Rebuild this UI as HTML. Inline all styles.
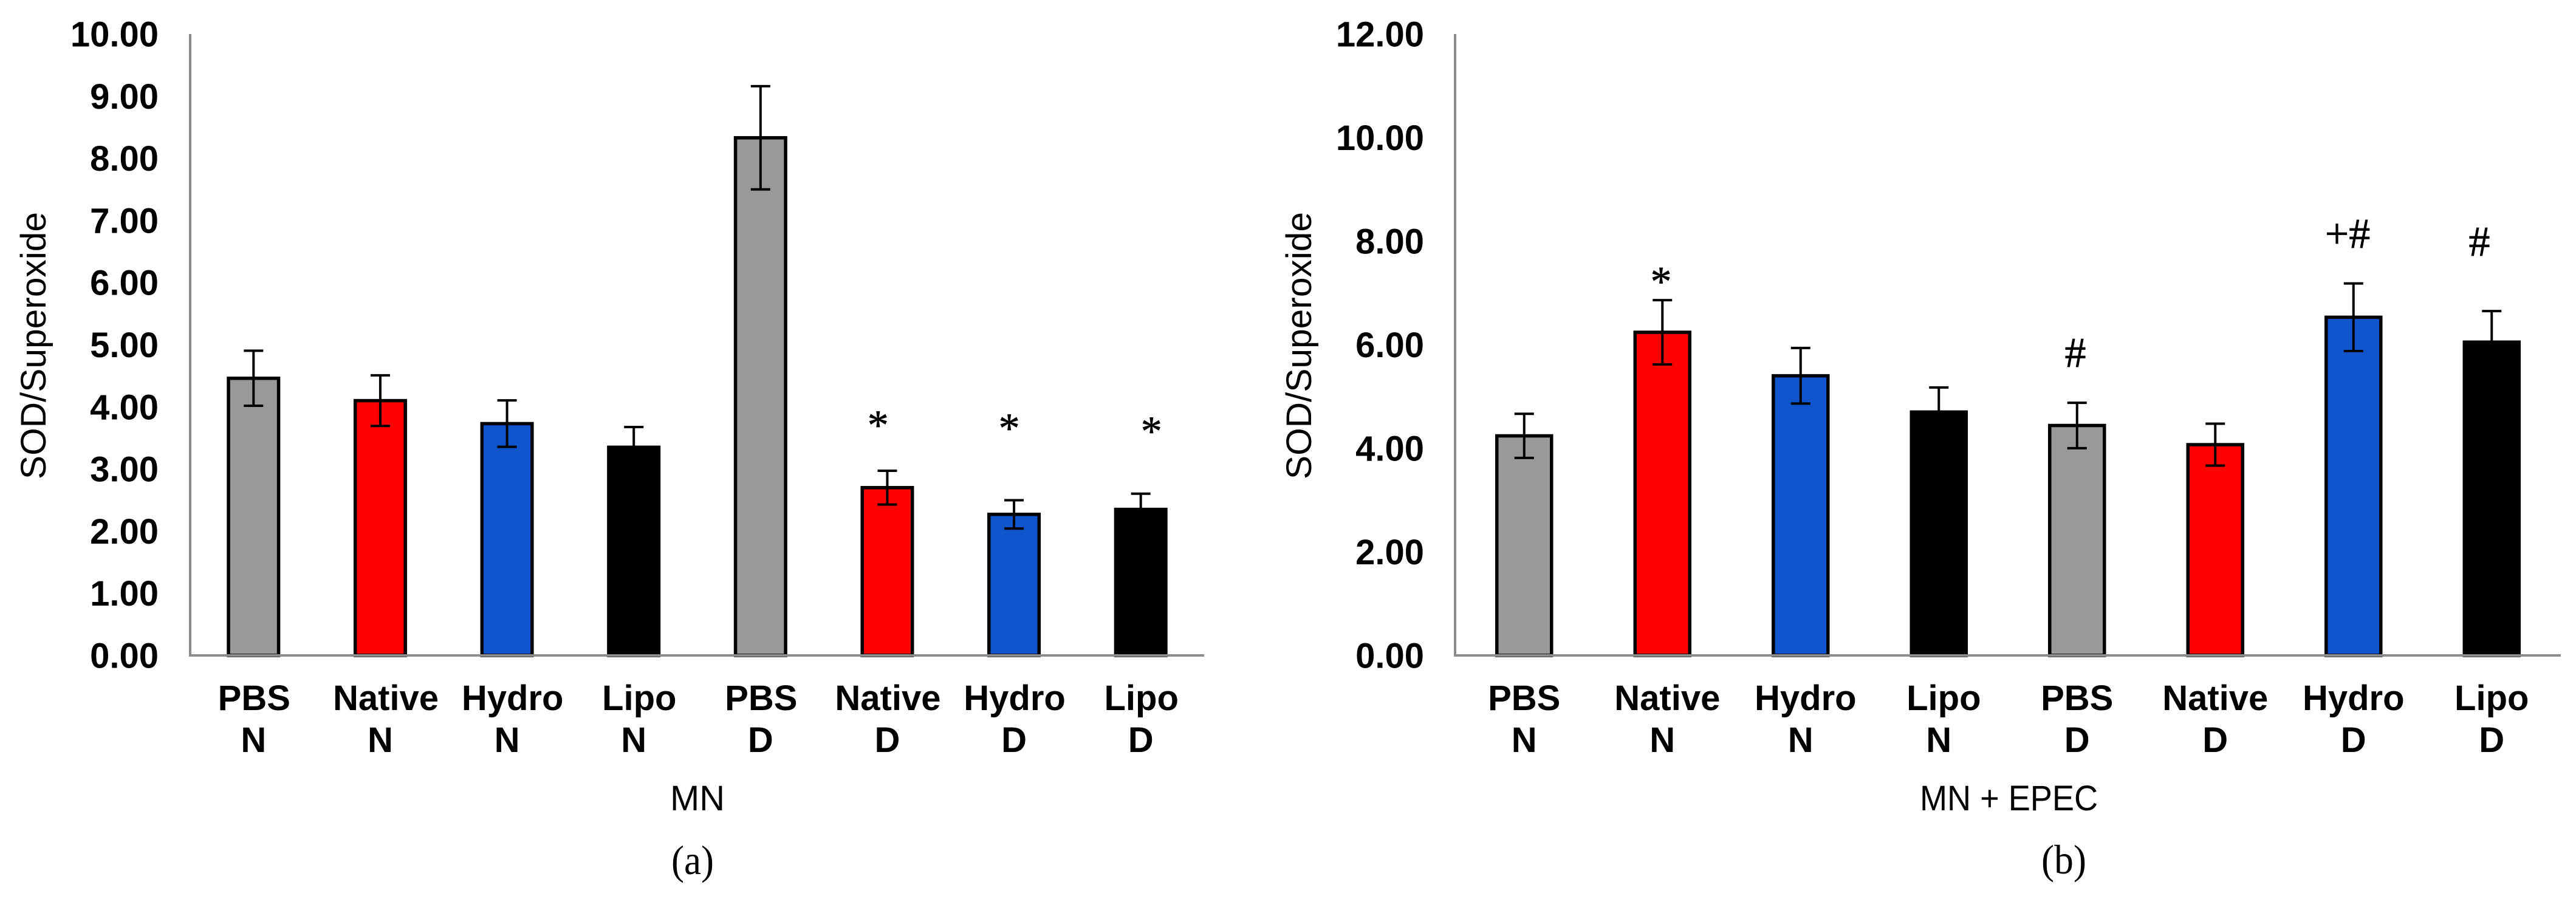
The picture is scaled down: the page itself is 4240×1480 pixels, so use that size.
<!DOCTYPE html>
<html lang="en">
<head>
<meta charset="utf-8">
<title>SOD/Superoxide bar charts</title>
<style>
html,body{margin:0;padding:0;background:#fff;width:4240px;height:1480px;overflow:hidden}
svg{display:block}
text{fill:#000}
.tick,.cat{font-family:"Liberation Sans",Arial,sans-serif;font-weight:700;font-size:58px}
.title{font-family:"Liberation Sans",Arial,sans-serif;font-size:58px}
.panel,.mark{font-family:"Liberation Serif","Times New Roman",serif}
.panel{font-size:68px}
.mark{font-size:70px;stroke:#000;stroke-width:0.7px}
</style>
</head>
<body>
<svg id="figure" xmlns="http://www.w3.org/2000/svg" width="4240" height="1480" viewBox="0 0 4240 1480">
  <rect width="4240" height="1480" fill="#fff"/>
  <g id="chart-a"></g>
  <g id="chart-b"></g>

  <text class="title" transform="translate(75 789) rotate(-90)" textLength="440" lengthAdjust="spacingAndGlyphs">SOD/Superoxide</text>
  <text class="title" transform="translate(2158 789) rotate(-90)" textLength="440" lengthAdjust="spacingAndGlyphs">SOD/Superoxide</text>
  <text class="title" x="1103" y="1334" textLength="90" lengthAdjust="spacingAndGlyphs">MN</text>
  <text class="title" x="3160" y="1334" textLength="293" lengthAdjust="spacingAndGlyphs">MN + EPEC</text>
  <text class="panel" x="1105" y="1439" textLength="70" lengthAdjust="spacingAndGlyphs">(a)</text>
  <text class="panel" x="3360" y="1438" textLength="74" lengthAdjust="spacingAndGlyphs">(b)</text>
</svg>

<script>
// Shared categories (leading no-break spaces reproduce the source's off-centre labels)
const categoryLine1 = ["PBS", "\u00A0Native", "\u00A0Hydro", "\u00A0Lipo", "PBS", "Native", "Hydro", "Lipo"];
const categoryLine2 = ["N", "N", "N", "N", "D", "D", "D", "D"];
const barColors = ["#999999", "#ff0000", "#1155cc", "#000000", "#999999", "#ff0000", "#1155cc", "#000000"];

// Panel (a): MN
const mnValues = [4.46, 4.10, 3.73, 3.35, 8.33, 2.70, 2.27, 2.35];
const mnErrors = [0.443, 0.408, 0.374, 0.325, 0.83, 0.272, 0.228, 0.253];
const mnTicks = ["0.00", "1.00", "2.00", "3.00", "4.00", "5.00", "6.00", "7.00", "8.00", "9.00", "10.00"];
const mnMarkText = ["*", "*", "*"];
const mnMarkCategory = [4.927, 5.962, 7.084];
const mnMarkLevel = [3.48, 3.43, 3.38];

// Panel (b): MN + EPEC
const epecValues = [4.24, 6.24, 5.40, 4.70, 4.44, 4.07, 6.53, 6.05];
const epecErrors = [0.426, 0.62, 0.537, 0.475, 0.438, 0.405, 0.653, 0.60];
const epecTicks = ["0.00", "2.00", "4.00", "6.00", "8.00", "10.00", "12.00"];
const epecMarkText = ["*", "#", "+#", "#"];
const epecMarkCategory = [0.990, 3.988, 5.957, 6.911];
const epecMarkLevel = [6.95, 5.57, 7.87, 7.72];

const SVG_NS = "http://www.w3.org/2000/svg";

function make(parent, tag, attrs, content) {
  const node = document.createElementNS(SVG_NS, tag);
  for (const key in attrs) node.setAttribute(key, attrs[key]);
  if (content !== undefined) node.textContent = content;
  parent.appendChild(node);
  return node;
}

function drawChart(root, frame, values, errors, ticks, markText, markCategory, markLevel) {
  const step = (frame.right - frame.left) / categoryLine1.length;
  const yMax = parseFloat(ticks[ticks.length - 1]);
  const xAxis = function (cat) { return frame.left + step * (cat + 0.5); };
  const yAxis = function (value) { return frame.base - (frame.base - frame.top) * value / yMax; };

  // Bars
  values.forEach(function (value, i) {
    const cx = xAxis(i);
    const bar = make(root, "rect", {
      x: cx - frame.barWidth / 2, y: yAxis(value),
      width: frame.barWidth, height: yAxis(0) - yAxis(value),
      fill: barColors[i], stroke: "#000", "stroke-width": 5.5
    });
    
    
  });

  // Error bars
  values.forEach(function (value, i) {
    const cx = xAxis(i);
    const hi = yAxis(value + errors[i]);
    const lo = yAxis(value - errors[i]);
    const errorGroup = make(root, "g", { stroke: "#000", "stroke-width": 4 });
    
    
    make(errorGroup, "line", { x1: cx, x2: cx, y1: hi, y2: lo });
    make(errorGroup, "line", { x1: cx - 16, x2: cx + 16, y1: hi, y2: hi });
    make(errorGroup, "line", { x1: cx - 16, x2: cx + 16, y1: lo, y2: lo });
  });

  // Axes, painted above the bars as in the reference
  const yLine = make(root, "line", {
    x1: frame.left, x2: frame.left, y1: frame.top, y2: frame.base + 2,
    stroke: "#8c8c8c", "stroke-width": 4
  });
  
  
  const xLine = make(root, "line", {
    x1: frame.left - 2, x2: frame.right, y1: frame.base, y2: frame.base,
    stroke: "#8c8c8c", "stroke-width": 4
  });
  
  

  // Y tick labels
  ticks.forEach(function (label) {
    const tick = make(root, "text", {
      class: "tick", x: frame.tickRight, y: yAxis(parseFloat(label)) + 20.5, "text-anchor": "end"
    }, label);
    
    
  });

  // X category labels
  categoryLine1.forEach(function (label, i) {
    const first = make(root, "text", {
      class: "cat", x: xAxis(i) + frame.labelNudge, y: 1169, "text-anchor": "middle"
    }, label);
    
    
    const second = make(root, "text", {
      class: "cat", x: xAxis(i), y: 1238, "text-anchor": "middle"
    }, categoryLine2[i]);
    
    
  });

  // Significance marks
  markText.forEach(function (label, i) {
    const mark = make(root, "text", {
      class: "mark", x: xAxis(markCategory[i]), y: yAxis(markLevel[i]), "text-anchor": "middle"
    }, label);
    
    
  });
}

drawChart(document.getElementById("chart-a"),
  { left: 313, right: 1982, top: 56, base: 1079, barWidth: 82.5, tickRight: 261, labelNudge: 1 },
  mnValues, mnErrors, mnTicks, mnMarkText, mnMarkCategory, mnMarkLevel);

drawChart(document.getElementById("chart-b"),
  { left: 2395, right: 4215, top: 56, base: 1079, barWidth: 90, tickRight: 2344, labelNudge: 0 },
  epecValues, epecErrors, epecTicks, epecMarkText, epecMarkCategory, epecMarkLevel);
</script>
</body>
</html>
